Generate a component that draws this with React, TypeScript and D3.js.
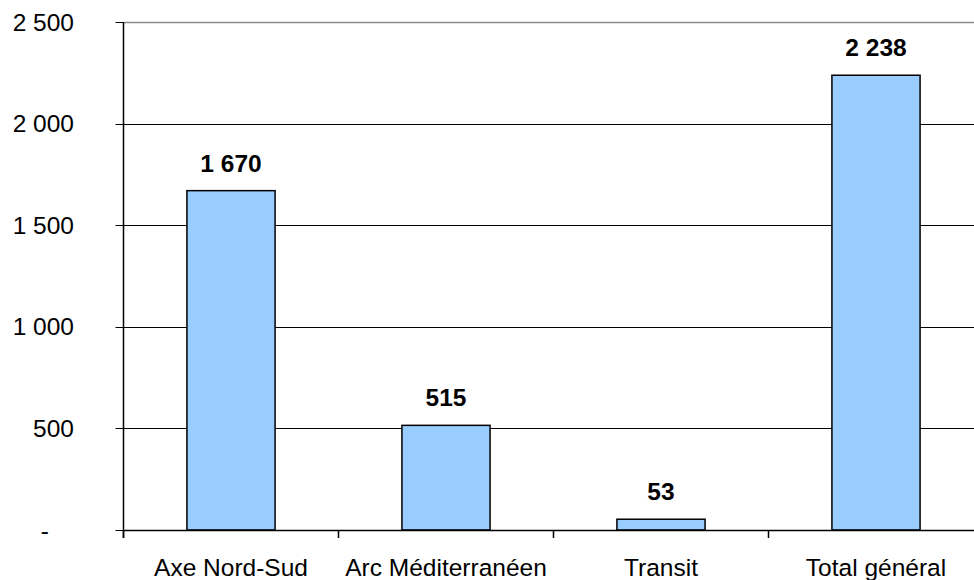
import { useEffect } from "react";
import { scaleBand, scaleLinear } from "d3";

const categories = ["Axe Nord-Sud", "Arc Méditerranéen", "Transit", "Total général"];
const values = [1670, 515, 53, 2238];
const yTicks = [0, 500, 1000, 1500, 2000, 2500];

const W = 974;
const H = 580;
const left = 123.5;
const right = 983.5;
const top = 22;
const bottom = 530;
const font = "'Liberation Sans', Arial, sans-serif";
const fs = 24.5;

function fmt(v: number): string {
	if (v === 0) return "-";
	return String(v).replace(/\B(?=(\d{3})+(?!\d))/g, " ");
}

export default function App() {
	useEffect(() => {
		document.body.style.margin = "0";
	}, []);

	const x = scaleBand<string>().domain(categories).range([left, right]);
	const y = scaleLinear().domain([0, 2500]).range([bottom, top]);
	const barW = x.bandwidth() * 0.41;

	return (
		<svg width={W} height={H} style={{ display: "block", background: "#fff" }} fontFamily={font}>
			{yTicks.map((t) => (
				<g key={t}>
					{t > 0 && (
						<line
							x1={left}
							x2={W}
							y1={Math.round(y(t)) + 0.5}
							y2={Math.round(y(t)) + 0.5}
							stroke={t === 2500 ? "#8c8c8c" : "#000"}
							strokeWidth={t === 2500 ? 1.5 : 1}
						/>
					)}
					<line
						x1={left - 8}
						x2={left}
						y1={Math.round(y(t)) + 0.5}
						y2={Math.round(y(t)) + 0.5}
						stroke="#000"
					/>
					<text
						x={t === 0 ? 49 : 74}
						y={y(t)}
						dy="0.35em"
						textAnchor="end"
						fontSize={fs}
						fill="#000"
					>
						{fmt(t)}
					</text>
				</g>
			))}
			{categories.map((c, i) => {
				const cx = (x(c) ?? 0) + x.bandwidth() / 2;
				return (
					<g key={c}>
						<rect
							x={cx - barW / 2}
							y={y(values[i])}
							width={barW}
							height={bottom - y(values[i])}
							fill="#99CCFF"
							stroke="#000"
							strokeWidth={1.5}
						/>
						<text
							x={cx}
							y={y(values[i]) - 19}
							textAnchor="middle"
							fontSize={fs}
							fontWeight="bold"
							fill="#000"
						>
							{fmt(values[i])}
						</text>
						<text x={cx} y={576} textAnchor="middle" fontSize={fs} fill="#000">
							{c}
						</text>
					</g>
				);
			})}
			{categories.map((c) => (
				<line
					key={"t" + c}
					x1={x(c) ?? 0}
					x2={x(c) ?? 0}
					y1={bottom}
					y2={bottom + 8}
					stroke="#000"
					strokeWidth={1.5}
				/>
			))}
			<line x1={left} x2={W} y1={bottom + 0.5} y2={bottom + 0.5} stroke="#000" strokeWidth={1.5} />
			<line x1={left} x2={left} y1={top} y2={bottom + 8} stroke="#000" strokeWidth={1.5} />
		</svg>
	);
}
